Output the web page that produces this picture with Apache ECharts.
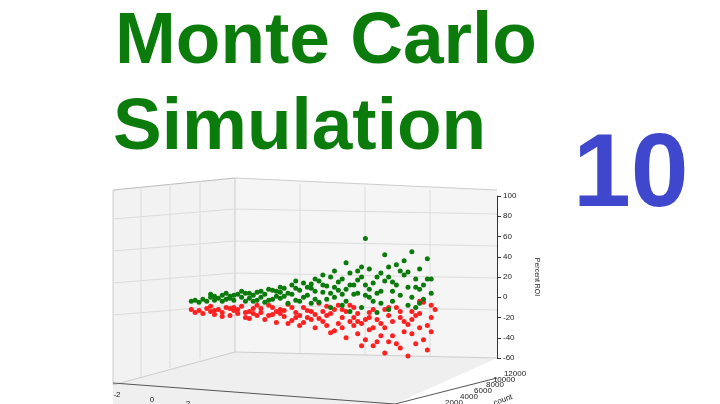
<!DOCTYPE html>
<html>
<head>
<meta charset="utf-8">
<script src="https://cdn.jsdelivr.net/npm/echarts@6/dist/echarts.min.js"></script>
<style>html,body{margin:0;background:#fff}#c{width:720px;height:404px}</style>
</head>
<body>
<div id="c"></div>
<script>
const yTicks = [-60, -40, -20, 0, 20, 40, 60, 80, 100];
const depthLabels = ['2000', '4000', '6000', '8000', '10000', '12000'];
const xLabels = ['-2', '0', '2'];

// profitable runs (green) : [screen position, percent ROI]
const gainPoints = [
  [21, -4], [22, -3], [23, -5], [24, -2], [25, -4], [26, 0], [27, -3], [28, -1], [29, 2], [30, -2],
  [31, 1], [32, -3], [33, 3], [34, 0], [35, 4], [36, -1], [37, 2], [38, 5], [39, 0], [40, 3],
  [41, 8], [42, -2], [43, 6], [44, 10], [45, 1], [46, 4], [47, 12], [48, -3], [49, 7], [50, 14],
  [51, 2], [52, 9], [53, 18], [54, -5], [55, 5], [56, 11], [57, 20], [58, 0], [59, 15], [60, -8],
  [61, 8], [62, 24], [63, 3], [64, 17], [65, -10], [66, 12], [67, 28], [68, -4], [69, 20], [70, 6],
  [71, 42], [72, -12], [73, 15], [74, 32], [75, 2], [76, 22], [77, -8], [78, 45], [79, 10], [80, 28],
  [81, -2], [82, 38], [83, 18], [26, 3], [30, 4], [35, -4], [40, -5], [44, 5], [48, 9], [52, -6],
  [56, -2], [60, 18], [64, 4], [68, 14], [72, 30], [76, 36], [79, -10], [80, 8], [66, 58], [58, 26],
  [62, -14], [70, -6], [74, 12], [82, 18], [46, -6], [50, 0], [54, 16], [42, 7], [38, -3], [61, 34],
  [65, 30], [77, 25], [73, 6], [69, -15], [57, -10], [53, 6], [67, 0], [34, 6], [45, 9], [55, 22],
  [27, 1], [29, -4], [32, 2], [36, 4], [39, 6], [41, -3], [43, 1], [47, 3], [49, -4], [51, 10],
  [53, -2], [55, 12], [57, 4], [59, 7], [61, -4], [63, 12], [65, 20], [67, 8], [69, 4], [71, 16],
  [73, -4], [75, 26], [77, 10], [79, 18], [81, 12], [83, 4], [70, 24], [64, 26], [58, 10], [52, 13],
  [48, 16], [44, -1], [37, -4], [31, -1], [60, 3], [66, 2], [72, 20], [78, 0], [80, -6], [62, 12]
];

// losing runs (red)
const lossPoints = [
  [21, -12], [22, -15], [23, -13], [24, -16], [25, -11], [26, -14], [27, -17], [28, -12], [29, -15], [30, -10],
  [31, -18], [32, -13], [33, -16], [34, -9], [35, -20], [36, -14], [37, -11], [38, -18], [39, -15], [40, -22],
  [41, -8], [42, -17], [43, -25], [44, -12], [45, -19], [46, -7], [47, -23], [48, -15], [49, -28], [50, -10],
  [51, -20], [52, -14], [53, -30], [54, -6], [55, -24], [56, -18], [57, -35], [58, -12], [59, -26], [60, -20],
  [61, -40], [62, -8], [63, -28], [64, -16], [65, -48], [66, -22], [67, -32], [68, -12], [69, -44], [70, -26],
  [71, -55], [72, -18], [73, -38], [74, -10], [75, -50], [76, -24], [77, -58], [78, -14], [79, -46], [80, -30],
  [81, -5], [82, -52], [83, -20], [84, -12], [26, -9], [31, -11], [36, -21], [41, -18], [45, -13], [50, -25],
  [55, -14], [59, -8], [63, -20], [67, -15], [71, -30], [75, -20], [78, -36], [80, -4], [81, -42], [66, -42],
  [70, -38], [74, -46], [58, -33], [62, -24], [77, -27], [83, -8], [46, -26], [52, -22], [42, -10], [38, -8],
  [48, -20], [60, -30], [33, -12], [44, -16], [56, -28], [64, -36], [72, -10], [79, -18], [68, -30], [53, -17],
  [27, -13], [29, -19], [32, -10], [35, -15], [37, -16], [39, -11], [43, -14], [47, -10], [49, -18], [51, -13],
  [54, -21], [57, -16], [61, -14], [63, -10], [65, -26], [67, -20], [69, -22], [71, -12], [73, -24], [75, -14],
  [76, -34], [78, -22], [80, -16], [82, -28], [83, -34], [72, -44], [68, -48], [64, -24], [60, -12], [56, -9]
];

const line = (x1, y1, x2, y2, c) => ({
  type: 'line', silent: true, z: -1,
  shape: { x1, y1, x2, y2 }, style: { stroke: c || '#dcdcdc', lineWidth: 1 }
});
const text = (x, y, t, opts) => ({
  type: 'text', x, y, style: Object.assign({ text: t, fontFamily: 'Liberation Sans', fontSize: 8, fill: '#222' }, opts)
});
const small = (x, y, t, rot) => ({
  type: 'text', x, y, rotation: rot || 0,
  style: { text: t, fontFamily: 'Liberation Sans', fontSize: 8, fill: '#222', align: 'center', verticalAlign: 'middle' }
});

const box = [
  { type: 'polygon', silent: true, z: -2, shape: { points: [[113, 190], [235, 178], [235, 352], [113, 385]] }, style: { fill: '#f2f2f2' } },
  { type: 'polygon', silent: true, z: -2, shape: { points: [[235, 178], [497, 190], [497, 358], [235, 352]] }, style: { fill: '#f5f5f5' } },
  { type: 'polygon', silent: true, z: -2, shape: { points: [[113, 385], [235, 352], [497, 358], [395, 404], [113, 404]] }, style: { fill: '#efefef' } },
  line(113, 190, 235, 178, '#bbb'), line(235, 178, 497, 190, '#ccc'),
  line(235, 178, 235, 352, '#ccc'), line(113, 190, 113, 385, '#ccc'),
  line(113, 385, 235, 352, '#ccc'), line(235, 352, 497, 358, '#ccc'),
  line(113, 383, 395, 404, '#555'), line(497, 378, 395, 404, '#555')
];
[141, 170, 200].forEach((x, i) => box.push(line(x, 187 - i * 3, x, 377 - i * 9)));
[300, 365, 430].forEach((x) => box.push(line(x, 181 + (x - 235) * 0.046, x, 353 + (x - 235) * 0.023)));
[214, 246, 278, 310].forEach((y) => box.push(line(113, y + 5, 235, y - 5), line(235, y - 5, 497, y)));

const option = {
  animation: false,
  grid: { left: 110, right: 223, top: 196, bottom: 46 },
  xAxis: { type: 'value', min: 0, max: 100, show: false },
  yAxis: {
    type: 'value', position: 'right', min: -60, max: 100, interval: 20,
    axisLine: { show: true, onZero: false, lineStyle: { color: '#333' } },
    axisTick: { show: true, length: 4, lineStyle: { color: '#333' } },
    axisLabel: { fontSize: 8, color: '#222', fontFamily: 'Liberation Sans', margin: 6,
      formatter: (v) => (yTicks.includes(v) ? String(v) : '') },
    splitLine: { show: false },
    name: 'Percent ROI', nameLocation: 'middle', nameGap: 36, nameRotate: -90,
    nameTextStyle: { fontSize: 7, color: '#222', fontFamily: 'Liberation Sans' }
  },
  series: [
    { type: 'scatter', data: lossPoints, symbolSize: 5, itemStyle: { color: '#ff2020', opacity: 1 } },
    { type: 'scatter', data: gainPoints, symbolSize: 5, itemStyle: { color: '#0a7a0a', opacity: 1 } }
  ],
  graphic: box.concat([
    text(115, 6, 'Monte Carlo', { fontSize: 73, fontWeight: 'bold', fill: '#0b7b0b', fontFamily: 'Liberation Sans' }),
    text(113, 92, 'Simulation', { fontSize: 73, fontWeight: 'bold', fill: '#0b7b0b', fontFamily: 'Liberation Sans' }),
    text(573, 125, '10', { fontSize: 104, fontWeight: 'bold', fill: '#3f48cc', fontFamily: 'Liberation Sans' }),
    small(117, 395, xLabels[0]), small(152, 400, xLabels[1]), small(188, 404, xLabels[2]),
    small(515, 374, depthLabels[5]), small(504, 380, depthLabels[4]), small(495, 385, depthLabels[3]),
    small(483, 391, depthLabels[2]), small(469, 397, depthLabels[1]), small(454, 403, depthLabels[0]),
    small(503, 400, 'count', 0.35)
  ])
};
echarts.init(document.getElementById('c')).setOption(option);
</script>
</body>
</html>
